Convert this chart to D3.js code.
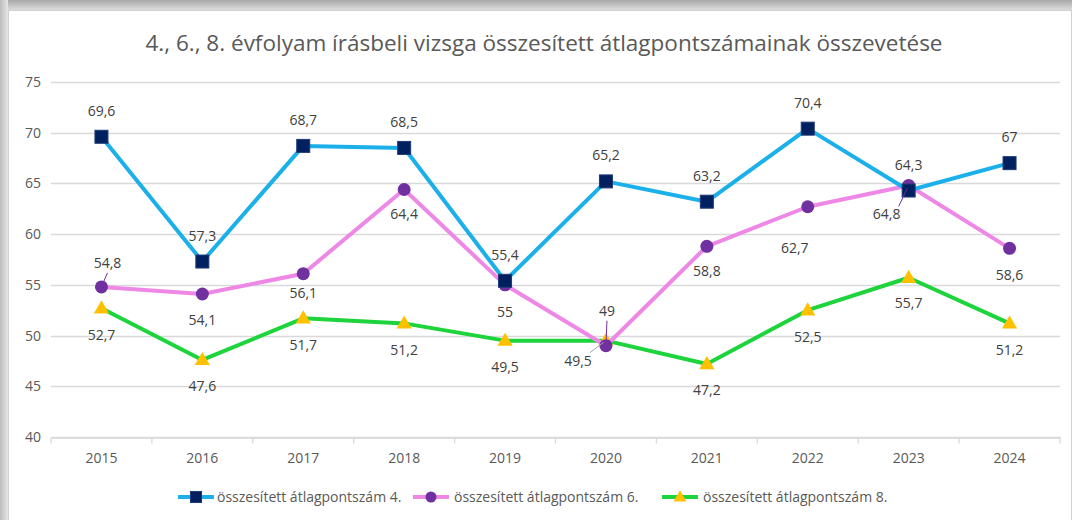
<!DOCTYPE html>
<html>
<head>
<meta charset="utf-8">
<script src="https://cdn.jsdelivr.net/npm/d3@7"></script>
<style>
  body { margin: 0; background: #fff; }
  svg { display: block; font-family: "Open Sans", sans-serif; }
</style>
</head>
<body>
<div id="chart"></div>
<script>
// data
const years = ['2015', '2016', '2017', '2018', '2019', '2020', '2021', '2022', '2023', '2024'];
const grade4 = [69.6, 57.3, 68.7, 68.5, 55.4, 65.2, 63.2, 70.4, 64.3, 67];
const grade6 = [54.8, 54.1, 56.1, 64.4, 55, 49, 58.8, 62.7, 64.8, 58.6];
const grade8 = [52.7, 47.6, 51.7, 51.2, 49.5, 49.5, 47.2, 52.5, 55.7, 51.2];
const seriesNames = ['összesített átlagpontszám 4.', 'összesített átlagpontszám 6.', 'összesített átlagpontszám 8.'];
const yTicks = [40, 45, 50, 55, 60, 65, 70, 75];
const title = '4., 6., 8. évfolyam írásbeli vizsga összesített átlagpontszámainak összevetése';

// label placement (dx, dy from the point, leader line or not) - Excel-ish auto layout
const labelOffsets = [
  years.map((y, i) => ({ dx: 0, dy: -26 })),
  [{ dx: 6, dy: -24, lead: true }, { dx: 0, dy: 26 }, { dx: 0, dy: 19 }, { dx: 0, dy: 24 }, { dx: 0, dy: 27 },
   { dx: 1, dy: -35, lead: true }, { dx: 0, dy: 25 }, { dx: -13, dy: 41 }, { dx: -22, dy: 29, lead: true }, { dx: 0, dy: 27 }],
  [{ dx: 0, dy: 27 }, { dx: 0, dy: 26 }, { dx: 0, dy: 27 }, { dx: 0, dy: 27 }, { dx: 0, dy: 26 },
   { dx: -28, dy: 20, lead: true, leadColor: '#a6a6a6' }, { dx: 0, dy: 26 }, { dx: 0, dy: 27 }, { dx: 0, dy: 25 }, { dx: 0, dy: 27 }]
];

const W = 1072, H = 520;
const margin = { top: 82, right: 12, bottom: 83, left: 51 };
const lineColors = ['#1cb0ea', '#ee88e6', '#1ed43c'];
const markerColors = ['#002060', '#7030a0', '#ffc000'];

const svg = d3.select('#chart').append('svg')
  .attr('width', W)
  .attr('height', H);

// shadow frame at top and left
const defs = svg.append('defs');
const gTop = defs.append('linearGradient').attr('id', 'shTop').attr('x1', 0).attr('y1', 0).attr('x2', 0).attr('y2', 1);
gTop.append('stop').attr('offset', '0%').attr('stop-color', '#a8a8a8');
gTop.append('stop').attr('offset', '100%').attr('stop-color', '#dcdcdc');
const gLeft = defs.append('linearGradient').attr('id', 'shLeft').attr('x1', 0).attr('y1', 0).attr('x2', 1).attr('y2', 0);
gLeft.append('stop').attr('offset', '0%').attr('stop-color', '#bcbcbc');
gLeft.append('stop').attr('offset', '100%').attr('stop-color', '#e6e6e6');

svg.append('rect').attr('x', 0).attr('y', 0).attr('width', W).attr('height', 10).attr('fill', 'url(#shTop)');
svg.append('rect').attr('x', 0).attr('y', 0).attr('width', 8).attr('height', H).attr('fill', 'url(#shLeft)');
svg.append('rect')
  .attr('x', 8.5).attr('y', 10.5).attr('width', W - 9).attr('height', H - 10)
  .attr('fill', '#fff').attr('stroke', '#d0d0d0');

svg.append('text')
  .attr('x', 544)
  .attr('y', 51)
  .attr('text-anchor', 'middle')
  .style('font-size', '22.5px')
  .style('fill', '#595959')
  .text(title);

const width = W - margin.left - margin.right;
const height = H - margin.top - margin.bottom;

const x = d3.scaleBand().domain(years).range([margin.left, margin.left + width]);
const y = d3.scaleLinear().domain([40, 75]).range([margin.top + height, margin.top]);
const cx = d => x(d) + x.bandwidth() / 2;

// gridlines
svg.append('g')
  .selectAll('line')
  .data(yTicks)
  .join('line')
  .attr('x1', margin.left).attr('x2', margin.left + width)
  .attr('y1', d => Math.round(y(d)) + 0.5).attr('y2', d => Math.round(y(d)) + 0.5)
  .attr('stroke', '#d9d9d9')
  .attr('stroke-width', 1.3);

const yAxis = svg.append('g')
  .attr('transform', `translate(${margin.left - 10},0)`)
  .call(d3.axisLeft(y).tickValues(yTicks).tickSize(0).tickPadding(0));
yAxis.select('.domain').remove();
yAxis.selectAll('text').style('font-size', '14px').style('fill', '#595959').style('font-family', '"Open Sans", sans-serif');

const xAxis = svg.append('g')
  .attr('transform', `translate(0,${Math.round(margin.top + height) + 0.5})`)
  .call(d3.axisBottom(x).tickSize(0).tickPadding(16));
xAxis.select('.domain').attr('stroke', '#d9d9d9').attr('stroke-width', 1.3);
xAxis.selectAll('text').style('font-size', '14px').style('fill', '#595959').style('font-family', '"Open Sans", sans-serif');
// ticks between categories
xAxis.selectAll('.sep')
  .data(years.concat(['end']))
  .join('line')
  .attr('class', 'sep')
  .attr('x1', (d, i) => margin.left + i * x.bandwidth())
  .attr('x2', (d, i) => margin.left + i * x.bandwidth())
  .attr('y1', 0).attr('y2', 6)
  .attr('stroke', '#d9d9d9').attr('stroke-width', 1.3);

const series = [grade4, grade6, grade8];

const line = d3.line().x((d, i) => cx(years[i])).y(d => y(d));

function drawMarker(g, k, px, py, s) {
  if (k === 0) {
    g.append('rect')
      .attr('x', px - 6.5 * s).attr('y', py - 6.5 * s)
      .attr('width', 13 * s).attr('height', 13 * s)
      .attr('fill', markerColors[0]).attr('stroke', '#1f3a78').attr('stroke-width', 1);
  } else if (k === 1) {
    g.append('circle').attr('cx', px).attr('cy', py).attr('r', 6.5 * s).attr('fill', markerColors[1]);
  } else {
    const t = 8 * s;
    g.append('path')
      .attr('d', `M${px},${py - t}L${px + t * 0.95},${py + t * 0.65}L${px - t * 0.95},${py + t * 0.65}Z`)
      .attr('fill', markerColors[2]);
  }
}

const plot = svg.append('g');
// draw series in reverse so grade 4 sits on top
[2, 1, 0].forEach(k => {
  plot.append('path')
    .datum(series[k])
    .attr('d', line)
    .attr('fill', 'none')
    .attr('stroke', lineColors[k])
    .attr('stroke-width', 4)
    .attr('stroke-linejoin', 'round');
  const mg = plot.append('g');
  series[k].forEach((v, i) => drawMarker(mg, k, cx(years[i]), y(v), 1));
});

// data labels
const labels = svg.append('g');
series.forEach((vals, k) => {
  vals.forEach((v, i) => {
    const o = labelOffsets[k][i];
    const px = cx(years[i]), py = y(v);
    const lx = px + o.dx, ly = py + o.dy;
    if (o.lead) {
      const ex = o.dy < 0 ? lx : lx + 12;
      const ey = o.dy < 0 ? ly + 10 : ly - 8;
      labels.append('line')
        .attr('x1', ex).attr('y1', ey)
        .attr('x2', px - (px - ex) * 0.15).attr('y2', py - (py - ey) * 0.15)
        .attr('stroke', o.leadColor || markerColors[1])
        .attr('stroke-width', 1);
    }
    labels.append('text')
      .attr('x', lx)
      .attr('y', ly + 5)
      .attr('text-anchor', 'middle')
      .style('font-size', '14px')
      .style('fill', '#404040')
      .text(String(v).replace('.', ','));
  });
});

// legend
const legendItems = [
  { lx: 178, tx: 217 },
  { lx: 413, tx: 454 },
  { lx: 662, tx: 703 }
];
const legend = svg.append('g');
seriesNames.forEach((name, k) => {
  const it = legendItems[k];
  const ly = 497;
  legend.append('line')
    .attr('x1', it.lx).attr('x2', it.lx + 36)
    .attr('y1', ly).attr('y2', ly)
    .attr('stroke', lineColors[k]).attr('stroke-width', 4);
  drawMarker(legend, k, it.lx + 18, ly, 0.85);
  legend.append('text')
    .attr('x', it.tx)
    .attr('y', ly + 5)
    .style('font-size', '14px')
    .style('fill', '#595959')
    .text(name);
});
</script>
</body>
</html>
